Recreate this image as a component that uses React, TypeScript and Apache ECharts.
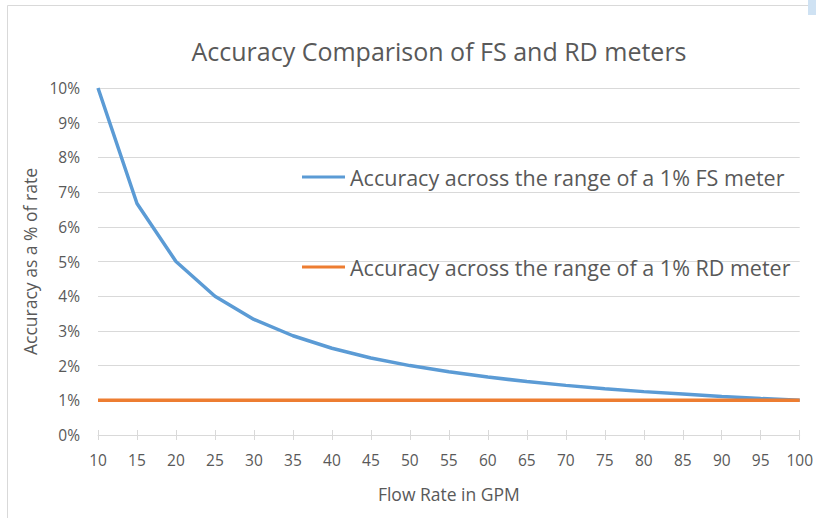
import React, { useEffect, useRef } from "react";
import * as echarts from "echarts";

const flowRates = ["10","15","20","25","30","35","40","45","50","55","60","65","70","75","80","85","90","95","100"];
const fsAccuracy = [10, 6.67, 5, 4, 3.33, 2.86, 2.5, 2.22, 2, 1.82, 1.67, 1.54, 1.43, 1.33, 1.25, 1.18, 1.11, 1.05, 1];
const rdAccuracy = [1, 1, 1, 1, 1, 1, 1, 1, 1, 1, 1, 1, 1, 1, 1, 1, 1, 1, 1];
const fsName = "Accuracy across the range of a 1% FS meter";
const rdName = "Accuracy across the range of a 1% RD meter";

const FONT = "'Open Sans', sans-serif";
const GRAY = "#595959";
const LINE = "#d9d9d9";

export default function App() {
  const ref = useRef<HTMLDivElement>(null);
  useEffect(() => {
    if (!ref.current) return;
    const chart = echarts.init(ref.current, null, { renderer: "svg" });
    chart.setOption({
      animation: false,
      backgroundColor: "#ffffff",
      textStyle: { fontFamily: FONT },
      graphic: [
        { type: "rect", shape: { x: 7.5, y: 5.5, width: 820, height: 530 }, style: { fill: "none", stroke: LINE, lineWidth: 1 } },
        { type: "rect", shape: { x: 808, y: 0, width: 8, height: 15 }, style: { fill: "#cfe2f3" } }
      ],
      title: {
        text: "Accuracy Comparison of FS and RD meters",
        left: 439,
        textAlign: "center",
        top: 38,
        padding: 0,
        textStyle: { fontFamily: FONT, fontSize: 25, fontWeight: "normal", color: GRAY }
      },
      legend: [
        {
          data: [fsName], left: 302, top: 166, padding: 0, itemWidth: 43, itemHeight: 3, icon: "rect",
          textStyle: { fontFamily: FONT, fontSize: 21.5, color: GRAY }
        },
        {
          data: [rdName], left: 302, top: 256, padding: 0, itemWidth: 43, itemHeight: 3, icon: "rect",
          textStyle: { fontFamily: FONT, fontSize: 21.5, color: GRAY }
        }
      ],
      grid: { left: 98, right: 16, top: 88, bottom: 83 },
      xAxis: [
        {
          type: "category",
          data: flowRates,
          boundaryGap: false,
          name: "Flow Rate in GPM",
          nameLocation: "middle",
          nameGap: 50,
          nameTextStyle: { fontFamily: FONT, fontSize: 17.5, color: GRAY },
          axisLine: { lineStyle: { color: LINE, width: 1 } },
          axisTick: { show: true, length: 5, lineStyle: { color: LINE } },
          axisLabel: { fontFamily: FONT, fontSize: 15.5, color: GRAY, margin: 17 }
        },
        {
          type: "category",
          data: flowRates,
          boundaryGap: false,
          position: "bottom",
          axisLine: { show: false },
          axisTick: { show: true, inside: true, length: 5, lineStyle: { color: LINE } },
          axisLabel: { show: false },
          splitLine: { show: false }
        }
      ],
      yAxis: {
        type: "value",
        min: 0,
        max: 10,
        interval: 1,
        name: "Accuracy as a % of rate",
        nameLocation: "middle",
        nameGap: 54,
        nameTextStyle: { fontFamily: FONT, fontSize: 17.5, color: GRAY },
        axisLine: { show: false },
        axisTick: { show: false },
        axisLabel: { fontFamily: FONT, fontSize: 15.5, color: GRAY, margin: 18, formatter: "{value}%" },
        splitLine: { lineStyle: { color: LINE, width: 1 } }
      },
      series: [
        {
          name: fsName, type: "line", data: fsAccuracy, symbol: "none",
          lineStyle: { color: "#5b9bd5", width: 3.5 }, itemStyle: { color: "#5b9bd5" }
        },
        {
          name: rdName, type: "line", data: rdAccuracy, symbol: "none",
          lineStyle: { color: "#ed7d31", width: 3.5 }, itemStyle: { color: "#ed7d31" }
        }
      ]
    });
    return () => chart.dispose();
  }, []);
  return <div ref={ref} style={{ width: 816, height: 518, position: "absolute", left: 0, top: 0 }} />;
}
